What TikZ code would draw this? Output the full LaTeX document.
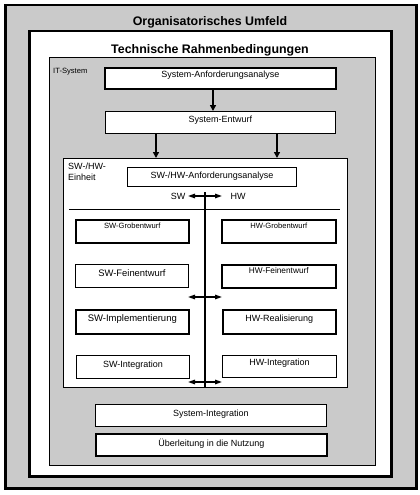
\documentclass[tikz,border=0pt]{standalone}
\usepackage{fontspec}
\setmainfont{Liberation Sans}
\usetikzlibrary{arrows.meta}
\definecolor{bggray}{RGB}{202,202,202}
\begin{document}
\begin{tikzpicture}[x=1pt,y=-1pt,
  frame/.style={draw, anchor=north west, inner sep=0pt},
  box/.style={draw, fill=white, line width=0.9pt, inner xsep=0pt, inner ysep=0pt,
    anchor=north west, font=\fontsize{9}{11}\selectfont},
  thickbox/.style={box, line width=1.6pt},
  small/.style={font=\fontsize{7.6}{9}\selectfont},
  arr/.style={-{Triangle[width=6pt,length=6pt]}, line width=1.4pt},
  darr/.style={{Triangle[width=4.5pt,length=7pt]}-{Triangle[width=4.5pt,length=7pt]}, line width=1.4pt},
  head/.style={font=\bfseries\fontsize{12.4}{14}\selectfont, anchor=base}
]
\useasboundingbox (0,0) rectangle (420,495);
% containers
\node[frame, fill=bggray, line width=2.5pt, minimum width=411pt, minimum height=483pt] (outer) at (4,4) {};
\node[frame, fill=white, line width=2.5pt, minimum width=362pt, minimum height=445pt] (tech) at (28,30) {};
\node[frame, fill=bggray, line width=0.9pt, minimum width=326pt, minimum height=408pt] (it) at (49,57) {};
\node[frame, fill=white, line width=0.9pt, minimum width=284pt, minimum height=229pt] (unit) at (63,158) {};
% headings
\node[head] (h1) at (210,26) {Organisatorisches Umfeld};
\node[head] (h2) at (210,53) {Technische Rahmenbedingungen};
\node[small, anchor=base west, inner sep=0pt] (itlab) at (53,74) {IT-System};
\node[anchor=north west, inner sep=0pt, align=left, font=\fontsize{9}{11}\selectfont] (unitlab) at (68,162.5) {SW-/HW-\\Einheit};
% boxes
\node[thickbox, minimum width=231pt, text height=10pt, text depth=11pt] (sa) at (104,67) {System-Anforderungsanalyse};
\node[box, minimum width=230pt, text height=11pt, text depth=11pt] (se) at (105,111) {System-Entwurf};
\node[box, minimum width=169pt, text height=11pt, text depth=8pt] (swhw) at (127,167) {SW-/HW-Anforderungsanalyse};
\node[thickbox, small, minimum width=113pt, text height=9pt, text depth=14pt] (sg) at (75,219) {SW-Grobentwurf};
\node[thickbox, small, minimum width=114pt, text height=9pt, text depth=14pt] (hg) at (221,219) {HW-Grobentwurf};
\node[box, font=\fontsize{9.4}{11}\selectfont, minimum width=113pt, text height=12pt, text depth=11pt] (sf) at (75,264) {SW-Feinentwurf};
\node[thickbox, font=\fontsize{8.3}{10}\selectfont, minimum width=114pt, text height=9pt, text depth=14pt] (hf) at (221,264) {HW-Feinentwurf};
\node[thickbox, font=\fontsize{9.5}{11}\selectfont, minimum width=113pt, text height=12pt, text depth=12pt] (si) at (75,309) {SW-Implementierung};
\node[thickbox, minimum width=113pt, text height=12pt, text depth=12pt] (hr) at (222,309) {HW-Realisierung};
\node[box, minimum width=113pt, text height=12pt, text depth=11pt] (sin) at (76,355) {SW-Integration};
\node[box, minimum width=114pt, text height=10pt, text depth=12pt] (hin) at (222,355) {HW-Integration};
\node[box, minimum width=231pt, text height=12pt, text depth=10pt] (sysi) at (95,404) {System-Integration};
\node[thickbox, minimum width=231pt, text height=13pt, text depth=9pt] (ub) at (95,433) {Überleitung in die Nutzung};
% SW / HW labels
\node[anchor=base, inner sep=0pt, font=\fontsize{9}{11}\selectfont] (swl) at (178,199) {SW};
\node[anchor=base, inner sep=0pt, font=\fontsize{9}{11}\selectfont] (hwl) at (238,199) {HW};
% connectors
\coordinate (c1) at (213,0);
\coordinate (c2) at (156,0);
\coordinate (c3) at (277,0);
\draw[arr] (sa.south -| c1) -- (se.north -| c1);
\draw[arr] (se.south -| c2) -- (unit.north -| c2);
\draw[arr] (se.south -| c3) -- (unit.north -| c3);
% separating lines
\coordinate (hl1) at (69,209);
\coordinate (hl2) at (340,209);
\draw[line width=0.8pt] (hl1) -- (hl2);
\coordinate (vtop) at (205,192);
\draw[line width=1.5pt] (vtop) -- (vtop |- unit.south);
% double arrows
\coordinate (d1l) at (188,196);
\coordinate (d1r) at (222,196);
\coordinate (d2l) at (188,297);
\coordinate (d2r) at (222,297);
\coordinate (d3l) at (188,382);
\coordinate (d3r) at (222,382);
\draw[darr] (d1l) -- (d1r);
\draw[darr] (d2l) -- (d2r);
\draw[darr] (d3l) -- (d3r);
\end{tikzpicture}
\end{document}
